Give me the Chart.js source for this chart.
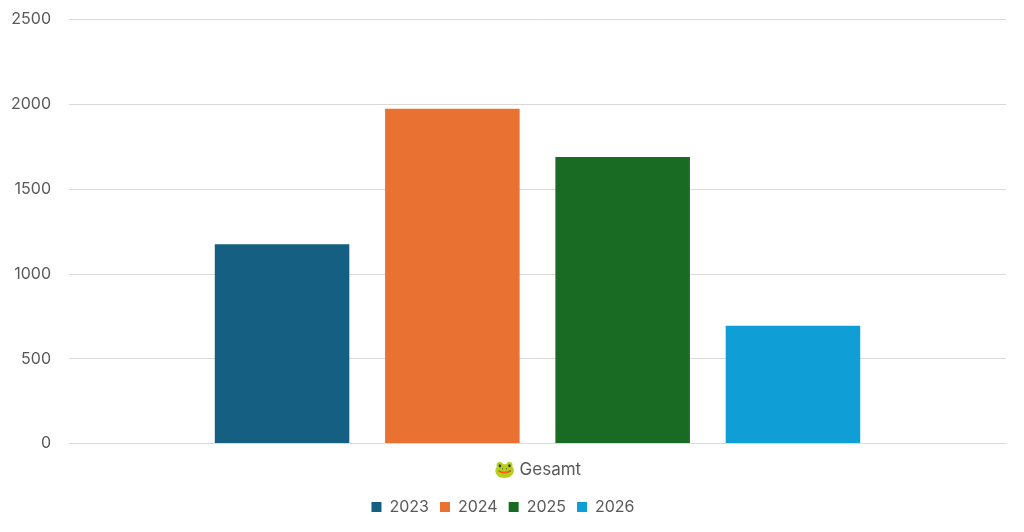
<!DOCTYPE html>
<html>
<head>
<meta charset="utf-8">
<script src="https://cdn.jsdelivr.net/npm/chart.js@4/dist/chart.umd.min.js"></script>
<style>
  html, body { margin: 0; padding: 0; background: #fff; }
  #wrap { width: 1024px; height: 532px; position: relative; }
</style>
</head>
<body>
<div id="wrap"><canvas id="chart"></canvas></div>
<script>
// ── Data ───────────────────────────────────────────────────
const categories = ['🐸 Gesamt'];
const years  = ['2023', '2024', '2025', '2026'];
const totals = [1175, 1975, 1690, 695];
const colors = ['#156082', '#E97132', '#196B24', '#0F9ED5'];

Chart.defaults.font.family = "Inter, 'Noto Sans', sans-serif";
Chart.defaults.color = '#595959';

new Chart(document.getElementById('chart'), {
  type: 'bar',
  data: {
    labels: categories,
    datasets: years.map((y, i) => ({
      label: y,
      data: [totals[i]],
      backgroundColor: colors[i],
      borderWidth: 0,
      categoryPercentage: 0.727,
      barPercentage: 0.79
    }))
  },
  options: {
    responsive: true,
    maintainAspectRatio: false,
    animation: false,
    layout: { padding: { top: 0, right: 18, left: 0, bottom: 7 } },
    plugins: {
      legend: {
        position: 'bottom',
        labels: {
          boxWidth: 10,
          boxHeight: 10,
          padding: 11,
          color: '#595959',
          font: { size: 16 }
        }
      },
      tooltip: { enabled: false }
    },
    scales: {
      x: {
        grid: { display: false },
        border: { color: '#d9d9d9' },
        ticks: { color: '#595959', font: { size: 17 }, padding: 8 }
      },
      y: {
        min: 0, max: 2500,
        grid: { color: '#d9d9d9', drawTicks: true, tickLength: 8, tickColor: 'rgba(0,0,0,0)' },
        border: { display: false },
        ticks: {
          stepSize: 500, color: '#595959', font: { size: 16 }, padding: 10,
          callback: v => String(v)
        },
        afterFit: scale => { scale.width = 69; }
      }
    }
  }
});
</script>
</body>
</html>
